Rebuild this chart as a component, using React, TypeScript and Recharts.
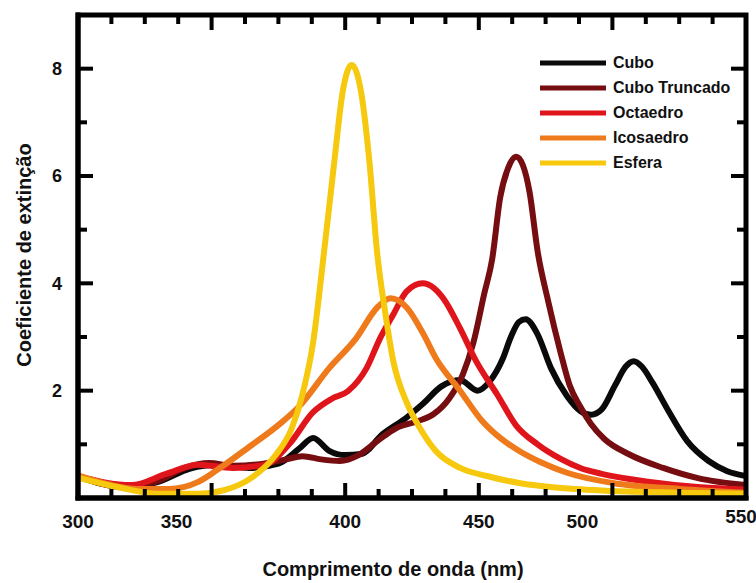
import { LineChart, Line, XAxis, YAxis } from 'recharts'

// Extinction spectra of Ag nanoparticles by shape
const CUBO_NM = [300, 318, 330, 342, 352, 364, 375, 383, 388, 394, 400, 406, 414, 423, 429, 436, 443, 449.5, 454, 459, 462, 465, 467.5, 472, 477, 483, 488, 492, 496, 501, 505, 508, 511, 515, 521, 528, 536, 543, 550]
const CUBO_VAL = [0.4, 0.2, 0.3, 0.55, 0.62, 0.56, 0.64, 0.93, 1.12, 0.88, 0.8, 0.82, 1.19, 1.5, 1.75, 2.08, 2.2, 2.0, 2.17, 2.6, 3.0, 3.28, 3.33, 3.05, 2.42, 1.9, 1.62, 1.55, 1.65, 2.1, 2.45, 2.55, 2.45, 2.15, 1.62, 1.06, 0.69, 0.5, 0.41]

const TRUNC_NM = [300, 318, 330, 340, 349, 358, 368, 378, 384, 391, 398, 405, 412, 419, 427, 433, 439, 444, 448, 452, 455, 458, 461, 464, 466.5, 469, 472, 476, 480.5, 484, 488, 492, 497, 506, 519, 532, 550]
const TRUNC_VAL = [0.4, 0.2, 0.32, 0.56, 0.65, 0.6, 0.63, 0.72, 0.78, 0.72, 0.69, 0.8, 1.06, 1.3, 1.43, 1.56, 1.86, 2.3, 2.9, 3.8, 4.45, 5.6, 6.15, 6.36, 6.2, 5.7, 4.6, 3.66, 2.73, 2.1, 1.7, 1.38, 1.1, 0.82, 0.56, 0.37, 0.24]

const OCTA_NM = [300, 320, 333, 345, 358, 370, 379, 388, 395, 401, 408, 413, 418, 423, 429, 433, 437, 443, 449, 457, 464, 472, 481, 488, 496, 514, 533, 550]
const OCTA_VAL = [0.4, 0.24, 0.45, 0.62, 0.56, 0.62, 1.0, 1.6, 1.85, 1.99, 2.42, 2.97, 3.42, 3.85, 4.0, 3.92, 3.7, 3.16, 2.55, 1.92, 1.35, 1.0, 0.72, 0.56, 0.45, 0.3, 0.2, 0.16]

const ICOSA_NM = [300, 311, 322, 334, 345, 352, 364, 376, 383, 394, 404, 412, 417, 423, 429, 434, 443, 451, 458, 465, 473, 483, 500, 525, 550]
const ICOSA_VAL = [0.42, 0.26, 0.17, 0.17, 0.3, 0.52, 0.95, 1.4, 1.72, 2.42, 2.97, 3.55, 3.72, 3.55, 3.08, 2.6, 2.0, 1.45, 1.12, 0.88, 0.67, 0.47, 0.28, 0.17, 0.1]

const ESFERA_NM = [300, 315, 330, 345, 355, 365, 374, 380, 384, 388, 392, 396, 399, 402.4, 406, 409, 412, 415, 418, 423, 428, 434, 443, 453, 465, 480, 500, 525, 550]
const ESFERA_VAL = [0.38, 0.2, 0.08, 0.08, 0.15, 0.38, 0.8, 1.3, 1.93, 2.9, 4.55, 6.3, 7.55, 8.07, 7.55, 6.3, 4.55, 3.45, 2.55, 1.78, 1.3, 0.87, 0.56, 0.41, 0.28, 0.19, 0.13, 0.1, 0.08]

const X_TICKS = [300, 312.5, 325, 337.5, 350, 362.5, 375, 387.5, 400, 412.5, 425, 437.5, 450, 462.5, 475, 487.5, 500, 512.5, 525, 537.5, 550]
const X_LABELS = [300, 350, 400, 450, 500, 550]
const Y_TICKS = [1, 2, 3, 4, 5, 6, 7, 8]
const Y_LABELS = [2, 4, 6, 8]

const toPoints = (nm: number[], val: number[]) => nm.map((x, i) => ({ nm: x, v: val[i] }))

const SERIES = [
  { name: 'Cubo', data: toPoints(CUBO_NM, CUBO_VAL), color: '#0a0a0a' },
  { name: 'Cubo Truncado', data: toPoints(TRUNC_NM, TRUNC_VAL), color: '#760d10' },
  { name: 'Octaedro', data: toPoints(OCTA_NM, OCTA_VAL), color: '#e0151c' },
  { name: 'Icosaedro', data: toPoints(ICOSA_NM, ICOSA_VAL), color: '#ee7a1c' },
  { name: 'Esfera', data: toPoints(ESFERA_NM, ESFERA_VAL), color: '#f6c80e' },
]

const W = 756
const H = 583
const X_DOMAIN = [300, 550]
const Y_DOMAIN = [0, 9]
// plot box
const PLOT_LEFT = 78
const PLOT_TOP = 15
const PLOT_RIGHT = 746
const PLOT_BOTTOM = 498

const FONT = '"Liberation Sans", Arial, Helvetica, sans-serif'
const FRAME = { stroke: '#000', strokeWidth: 5, strokeLinecap: 'square' as const }

// the source figure has a few labels sitting off their ticks
const LABEL_NUDGE: Record<number, [number, number]> = { 350: [-35, 0], 500: [-30, 0], 550: [-5, -5] }

function XTick({ x, y, payload }: any) {
  if (!X_LABELS.includes(payload.value)) return <g />
  const [dx, dy] = LABEL_NUDGE[payload.value] ?? [0, 0]
  return (
    <text x={x + dx} y={y + 30 + dy} textAnchor="middle" fontFamily={FONT} fontWeight="bold" fontSize={19} fill="#111">
      {payload.value}
    </text>
  )
}

function YTick({ x, y, payload }: any) {
  if (!Y_LABELS.includes(payload.value)) return <g />
  return (
    <text x={x - 16} y={y} dy="0.35em" textAnchor="end" fontFamily={FONT} fontWeight="bold" fontSize={18} fill="#111">
      {payload.value}
    </text>
  )
}

// inward tick marks on all four sides of the boxed frame
function FrameTicks() {
  const sx = (v: number) => PLOT_LEFT + ((v - X_DOMAIN[0]) / (X_DOMAIN[1] - X_DOMAIN[0])) * (PLOT_RIGHT - PLOT_LEFT)
  const sy = (v: number) => PLOT_BOTTOM - ((v - Y_DOMAIN[0]) / (Y_DOMAIN[1] - Y_DOMAIN[0])) * (PLOT_BOTTOM - PLOT_TOP)
  return (
    <svg width={W} height={H} style={{ position: 'absolute', left: 0, top: 0, pointerEvents: 'none' }}>
      <rect
        x={PLOT_LEFT}
        y={PLOT_TOP}
        width={PLOT_RIGHT - PLOT_LEFT}
        height={PLOT_BOTTOM - PLOT_TOP}
        fill="none"
        stroke="#000"
        strokeWidth={5}
      />
      {X_TICKS.map((v) => {
        const len = X_LABELS.includes(v) ? 15 : 9
        return (
          <g key={`x${v}`}>
            <rect x={sx(v) - 2} y={PLOT_BOTTOM - len} width={4} height={len} fill="#000" />
            <rect x={sx(v) - 2} y={PLOT_TOP} width={4} height={len} fill="#000" />
          </g>
        )
      })}
      {Y_TICKS.map((v) => {
        const len = Y_LABELS.includes(v) ? 15 : 9
        return (
          <g key={`y${v}`}>
            <rect x={PLOT_LEFT} y={sy(v) - 2} width={len} height={4} fill="#000" />
            <rect x={PLOT_RIGHT - len} y={sy(v) - 2} width={len} height={4} fill="#000" />
          </g>
        )
      })}
    </svg>
  )
}

const textStyle = { fontFamily: FONT, fontWeight: 'bold' as const, color: '#111' }

export default function App() {
  return (
    <div style={{ position: 'absolute', left: 0, top: 0, width: W, height: H }}>
      <div style={{ position: 'absolute', left: 538, top: 50, fontSize: 16, ...textStyle }}>
        {SERIES.map((s) => (
          <div key={s.name} style={{ display: 'flex', alignItems: 'center', height: 25 }}>
            <svg width={72} height={10}>
              <line x1={2} y1={5} x2={68} y2={5} stroke={s.color} strokeWidth={5} />
            </svg>
            <span style={{ marginLeft: 3, whiteSpace: 'nowrap' }}>{s.name}</span>
          </div>
        ))}
      </div>
      <div style={{ position: 'absolute', left: 0, top: 558, width: 786 - 30, paddingLeft: 15, textAlign: 'center', fontSize: 20, ...textStyle }}>
        Comprimento de onda (nm)
      </div>
      <div
        style={{
          position: 'absolute',
          left: 24,
          top: 255,
          transform: 'translate(-50%, -50%) rotate(-90deg)',
          whiteSpace: 'nowrap',
          fontSize: 20,
          ...textStyle,
        }}
      >
        Coeficiente de extinção
      </div>
      <LineChart width={W} height={H} margin={{ top: PLOT_TOP, right: W - PLOT_RIGHT, bottom: 0, left: 0 }}>
        <XAxis
          dataKey="nm"
          type="number"
          domain={X_DOMAIN}
          ticks={X_TICKS}
          interval={0}
          allowDataOverflow
          height={H - PLOT_BOTTOM}
          tickSize={0}
          tickMargin={0}
          axisLine={FRAME}
          tickLine={false}
          tick={(p: any) => <XTick {...p} />}
        />
        <YAxis
          type="number"
          domain={Y_DOMAIN}
          ticks={Y_TICKS}
          interval={0}
          allowDataOverflow
          width={PLOT_LEFT}
          tickSize={0}
          tickMargin={0}
          axisLine={FRAME}
          tickLine={false}
          tick={(p: any) => <YTick {...p} />}
        />
        {SERIES.map((s) => (
          <Line
            key={s.name}
            data={s.data}
            dataKey="v"
            name={s.name}
            type="monotone"
            stroke={s.color}
            strokeWidth={6}
            strokeLinejoin="round"
            dot={false}
            activeDot={false}
            isAnimationActive={false}
          />
        ))}
      </LineChart>
      <FrameTicks />
    </div>
  )
}
